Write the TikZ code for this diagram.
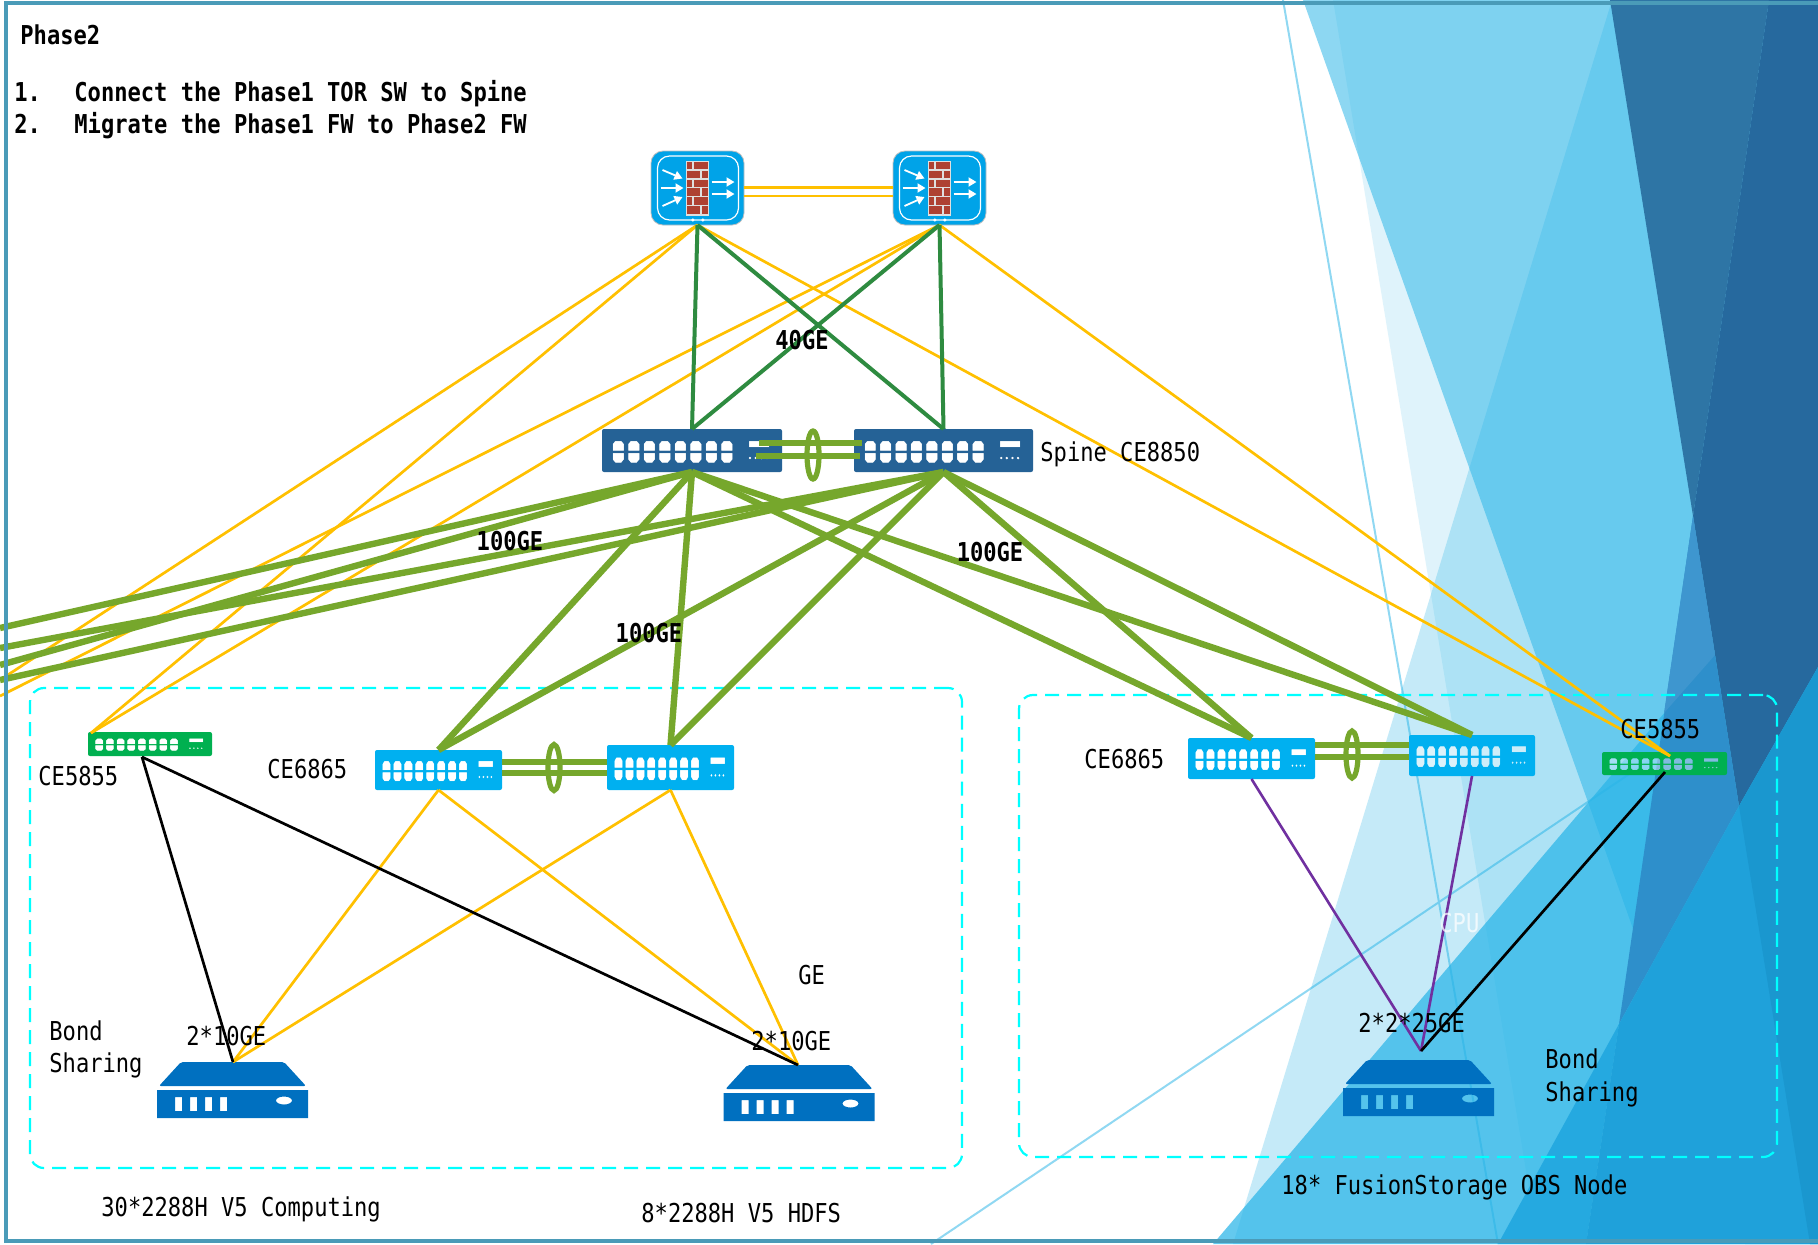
\documentclass[tikz,border=0pt]{standalone}
\usepackage{fontspec}
\usetikzlibrary{shapes.geometric,arrows.meta}
\newfontfamily\hei[FakeStretch=0.85]{DejaVu Sans Mono}
\definecolor{bgblue}{HTML}{29B5E8}
\definecolor{bgline}{HTML}{90D8F2}
\definecolor{framec}{HTML}{4A9BB8}
\definecolor{ylw}{HTML}{FFC000}
\definecolor{dgreen}{HTML}{2E8B40}
\definecolor{lgreen}{HTML}{76A72C}
\definecolor{purp}{HTML}{7030A0}
\definecolor{spinec}{HTML}{256296}
\definecolor{torc}{HTML}{00B0F0}
\definecolor{mgmtc}{HTML}{00B050}
\definecolor{srvc}{HTML}{0070C0}
\definecolor{fwc}{HTML}{00A3E8}
\definecolor{brick}{HTML}{AE4132}
\definecolor{facT}{HTML}{2E75A5}
\definecolor{facU}{HTML}{26699E}
\definecolor{facQ}{HTML}{2E8FCB}
\definecolor{facQa}{HTML}{3E96CF}
\definecolor{facV}{HTML}{25A9E0}
\definecolor{facW}{HTML}{1FA1DA}
\definecolor{facX}{HTML}{1A97CF}
\definecolor{dashc}{HTML}{00FFFF}
\tikzset{
  x=0.5pt,y=-0.5pt,
  iconbox/.style={inner sep=0pt,outer sep=0pt,rectangle},
  lbl/.style={inner sep=0pt,anchor=west,text=black,text height=9.5pt,text depth=0pt,font=\hei\fontsize{13}{15}\selectfont},
  lblb/.style={lbl,font=\hei\bfseries\fontsize{13}{15}\selectfont},
  lblc/.style={lblb,anchor=center},
  ylink/.style={draw=ylw,line width=1.35pt},
  glink/.style={draw=dgreen,line width=2pt},
  tlink/.style={draw=lgreen,line width=3.2pt},
  slink/.style={draw=lgreen,line width=3pt},
  klink/.style={draw=black,line width=1.35pt},
  plink/.style={draw=purp,line width=1.3pt},
  lagring/.style={draw=lgreen,ellipse,line width=2.6pt,inner sep=0pt,outer sep=0pt,fill=none},
  dashbox/.style={draw=dashc,dash pattern=on 7pt off 4pt,line width=1.1pt,rounded corners=7pt},
  farrow/.style={draw=white,line width=0.9pt,-{Triangle[length=4pt,width=4.5pt]}}
}
\newcommand\swports{%
  \foreach \c in {16.3,31.8,47.3,62.8,78.3,93.8,109.3,124.8}{%
    (\c-5.5,21.6) -- (\c-5.5,15) -- (\c-3,12) -- (\c+3,12) -- (\c+5.5,15) -- (\c+5.5,21.6) -- cycle
    (\c-5.5,24) -- (\c+5.5,24) -- (\c+5.5,30.5) -- (\c+3,33.5) -- (\c-3,33.5) -- (\c-5.5,30.5) -- cycle
  }
  (147,12) rectangle (167,18)
  \foreach \c in {148,153.7,159.4,165}{ (\c,29) circle (1.4) }
}
% name, cx, cy, w, h, colour
\newcommand\swicon[6]{%
  \node[iconbox,minimum width=#4*0.5pt,minimum height=#5*0.5pt] (#1) at (#2,#3) {};
  \begin{scope}[shift={({#2-#4/2},{#3-#5/2})},xscale=#4/180,yscale=#5/43]
    \fill[#6,even odd rule] [rounded corners=1pt] (0,0) rectangle (180,43) [sharp corners] \swports;
    \fill[white,opacity=0.4] \swports;
  \end{scope}
}
% name, cx, cy
\newcommand\fwicon[3]{%
  \node[iconbox,minimum width=46.5pt,minimum height=37pt,rounded corners=6pt,fill=fwc,draw=gray!50,line width=0.4pt] (#1) at (#2,#3) {};
  \begin{scope}[shift={(#2,#3)}]
    \draw[white,line width=0.6pt,rounded corners=6pt] (-40,-32) rectangle (41,32);
    \fill[gray!25] (-12,-27.5) rectangle (11,27.5);
    \foreach \r/\y in {0/-26.5,1/-17.5,2/-8.5,3/0.3,4/9,5/18}{
      \ifodd\r
        \fill[brick] (-10.5,\y) rectangle (2.5,\y+7.8);
        \fill[brick] (4.2,\y) rectangle (10,\y+7.8);
      \else
        \fill[brick] (-10.5,\y) rectangle (-5.5,\y+7.8);
        \fill[brick] (-4,\y) rectangle (10,\y+7.8);
      \fi
    }
    \draw[farrow] (-35,-18) -- (-15,-9.5);
    \draw[farrow] (-37,0) -- (-14,0);
    \draw[farrow] (-35,18) -- (-15,9);
    \draw[farrow] (14,-6) -- (37,-6);
    \draw[farrow] (14,6) -- (37,6);
    \fill[white] (-4.7,32) circle (1.7) (5.3,32) circle (1.7);
  \end{scope}
}
% name, cx, top
\newcommand\srvicon[3]{%
  \node[iconbox,minimum width=75.5pt,minimum height=28pt] (#1) at (#2,{#3+28}) {};
  \begin{scope}[shift={({#2-75.5},#3)}]
    \fill[srvc,rounded corners=1pt] (24,0) -- (127,0) -- (149,24) -- (2,24) -- cycle;
    \fill[srvc,even odd rule] (0,28) rectangle (151,56)
      (18,35) rectangle (25,49) (33,35) rectangle (40,49)
      (48,35) rectangle (55,49) (63,35) rectangle (70,49)
      (127,38.5) ellipse (8 and 4);
  \end{scope}
}
\begin{document}
\begin{tikzpicture}
\useasboundingbox (0,0) rectangle (1818,1244);
\clip (0,0) rectangle (1818,1244);
\fill[white] (0,0) rectangle (1818,1244);
% background facets
\draw[bgline,line width=1pt] (1283,0) -- (1498,1244);
\draw[bgline,line width=1pt] (931,1244) -- (1818,647);
\fill[bgblue,opacity=.15] (1333,0) -- (1538,1244) -- (1818,1244) -- (1818,0) -- cycle;
\fill[bgblue,opacity=.27] (1612,0) -- (1233,1244) -- (1818,1244) -- (1818,0) -- cycle;
\fill[bgblue,opacity=.53] (1303,0) -- (1745,1244) -- (1818,1244) -- (1818,0) -- cycle;
\fill[bgblue,opacity=.72] (1213,1244) -- (1818,532) -- (1818,1244) -- cycle;
\fill[facT] (1610,0) -- (1769,0) -- (1693,516) -- cycle;
\fill[facU] (1769,0) -- (1818,0) -- (1818,667) -- (1739,806) -- (1693,516) -- cycle;
\fill[facQ] (1693,516) -- (1739,806) -- (1619,1024) -- cycle;
\fill[facQa] (1693,516) -- (1715,655) -- (1664,713) -- cycle;
\fill[facV] (1498,1244) -- (1619,1024) -- (1586,1244) -- cycle;
\fill[facW] (1619,1024) -- (1586,1244) -- (1818,1244) -- (1818,667) -- (1739,806) -- cycle;
\fill[facX] (1739,806) -- (1810,1244) -- (1818,1244) -- (1818,667) -- cycle;

% dashed groups
\node[iconbox,dashbox,minimum width=466pt,minimum height=240pt] (grpL) at (496,928) {};
\node[iconbox,dashbox,minimum width=379pt,minimum height=231pt] (grpR) at (1398,926) {};

% devices
\fwicon{fw1}{697.5}{188}
\fwicon{fw2}{939.5}{188}
\swicon{s1}{692}{450.5}{180}{43}{spinec}
\swicon{s2}{943.5}{450.5}{179}{43}{spinec}
\swicon{l1}{438.5}{770}{127}{40}{torc}
\swicon{l2}{670.5}{767.5}{127}{45}{torc}
\swicon{r1}{1251.5}{758.5}{127}{41}{torc}
\swicon{r2}{1472}{755.5}{126}{41}{torc}
\swicon{mL}{150}{744}{124}{24}{mgmtc}
\swicon{mR}{1664.5}{763.5}{125}{23}{mgmtc}
\srvicon{sL}{232.5}{1062}
\srvicon{sM}{799}{1065}
\srvicon{sR}{1418.5}{1060}

% free ends and attachment points
\coordinate (mLt) at (91,733);
\coordinate (mLb) at (142,757);
\coordinate (mRt) at (1670,756);
\coordinate (mRb) at (1665,772);
\coordinate (sRt) at (1421,1051);
\coordinate (sLt) at (233,1062);
\coordinate (sMt) at (798,1065);
\coordinate (exY1) at (0,680);
\coordinate (exY2) at (0,696);
\coordinate (exA) at (0,628);
\coordinate (exB) at (0,648);
\coordinate (exC) at (0,665);
\coordinate (exD) at (0,680);
\coordinate (fwla) at (744,187.5);
\coordinate (fwlb) at (893,187.5);
\coordinate (fwlc) at (744,196);
\coordinate (fwld) at (893,196);
\coordinate (spa) at (759,443);
\coordinate (spb) at (862,443);
\coordinate (spc) at (756,456);
\coordinate (spd) at (860,456);
\coordinate (lla) at (502,762);
\coordinate (llb) at (607,762);
\coordinate (llc) at (502,773);
\coordinate (lld) at (607,773);
\coordinate (rla) at (1315,745);
\coordinate (rlb) at (1409,745);
\coordinate (rlc) at (1315,757);
\coordinate (rld) at (1409,757);

% yellow firewall links
\draw[ylink] (fwla) -- (fwlb);
\draw[ylink] (fwlc) -- (fwld);
\draw[ylink] (fw1.south) -- (exY1);
\draw[ylink] (fw1.south) -- (mLt);
\draw[ylink] (fw2.south) -- (exY2);
\draw[ylink] (fw2.south) -- (mLt);
\draw[ylink] (fw1.south) -- (mRt);
\draw[ylink] (fw2.south) -- (mRt);
% firewall to spine
\draw[glink] (fw1.south) -- (s1.north);
\draw[glink] (fw1.south) -- (s2.north);
\draw[glink] (fw2.south) -- (s1.north);
\draw[glink] (fw2.south) -- (s2.north);
% spine to TOR
\foreach \t in {l1,l2,r1,r2}{
  \draw[tlink] (s1.south) -- (\t.north);
  \draw[tlink] (s2.south) -- (\t.north);
}
\draw[tlink] (s1.south) -- (exA);
\draw[tlink] (s1.south) -- (exC);
\draw[tlink] (s2.south) -- (exB);
\draw[tlink] (s2.south) -- (exD);
% peer links
\draw[slink] (spa) -- (spb);
\draw[slink] (spc) -- (spd);
\node[lagring,minimum width=6pt,minimum height=24pt] (lagS) at (813,455) {};
\draw[slink] (lla) -- (llb);
\draw[slink] (llc) -- (lld);
\node[lagring,minimum width=6pt,minimum height=23pt] (lagL) at (554,767.5) {};
\draw[slink] (rla) -- (rlb);
\draw[slink] (rlc) -- (rld);
\node[lagring,minimum width=6pt,minimum height=23.5pt] (lagR) at (1352,754.5) {};
% TOR to servers
\draw[ylink] (l1.south) -- (sLt);
\draw[ylink] (l1.south) -- (sMt);
\draw[ylink] (l2.south) -- (sLt);
\draw[ylink] (l2.south) -- (sMt);
\draw[klink] (mLb) -- (sLt);
\draw[klink] (mLb) -- (sMt);
\draw[plink] (r1.south) -- (sRt);
\draw[plink] (r2.south) -- (sRt);
\draw[klink] (mRb) -- (sRt);

% labels
\node[lblb] (tPhase) at (20,35) {Phase2};
\node[lblb] (tOne) at (14,92) {1.};
\node[lblb] (tConn) at (74,92) {Connect the Phase1 TOR SW to Spine};
\node[lblb] (tTwo) at (14,124) {2.};
\node[lblb] (tMig) at (74,124) {Migrate the Phase1 FW to Phase2 FW};
\node[lblc] (t40) at (802,340) {40GE};
\node[lblc] (t100a) at (510,541) {100GE};
\node[lblc] (t100b) at (990,552) {100GE};
\node[lblc] (t100c) at (649,633) {100GE};
\node[lbl] (tSpine) at (1040,452) {Spine CE8850};
\node[lbl] (tCe5L) at (38,776) {CE5855};
\node[lbl] (tCe6L) at (267,769) {CE6865};
\node[lbl] (tBondL) at (49,1031) {Bond};
\node[lbl] (tShareL) at (49,1063) {Sharing};
\node[lbl] (t210a) at (186,1036) {2*10GE};
\node[lbl] (t30) at (101,1207) {30*2288H V5 Computing};
\node[lbl] (t8) at (641,1213) {8*2288H V5 HDFS};
\node[lbl] (tGE) at (798,975) {GE};
\node[lbl] (t210b) at (751,1041) {2*10GE};
\node[lbl] (tCe6R) at (1084,759) {CE6865};
\node[lbl] (t225) at (1358,1023) {2*2*25GE};
\node[lbl,text=white,opacity=.75] (tCpu) at (1439,923) {CPU};
\node[lbl] (tBondR) at (1545,1059) {Bond};
\node[lbl] (tShareR) at (1545,1092) {Sharing};
\node[lbl] (t18) at (1281,1185) {18* FusionStorage OBS Node};
\node[lbl] (tCe5R) at (1620,729) {CE5855};

% outer frame
\draw[framec,line width=2pt] (6,3) rectangle (1840,1241);
\end{tikzpicture}
\end{document}
